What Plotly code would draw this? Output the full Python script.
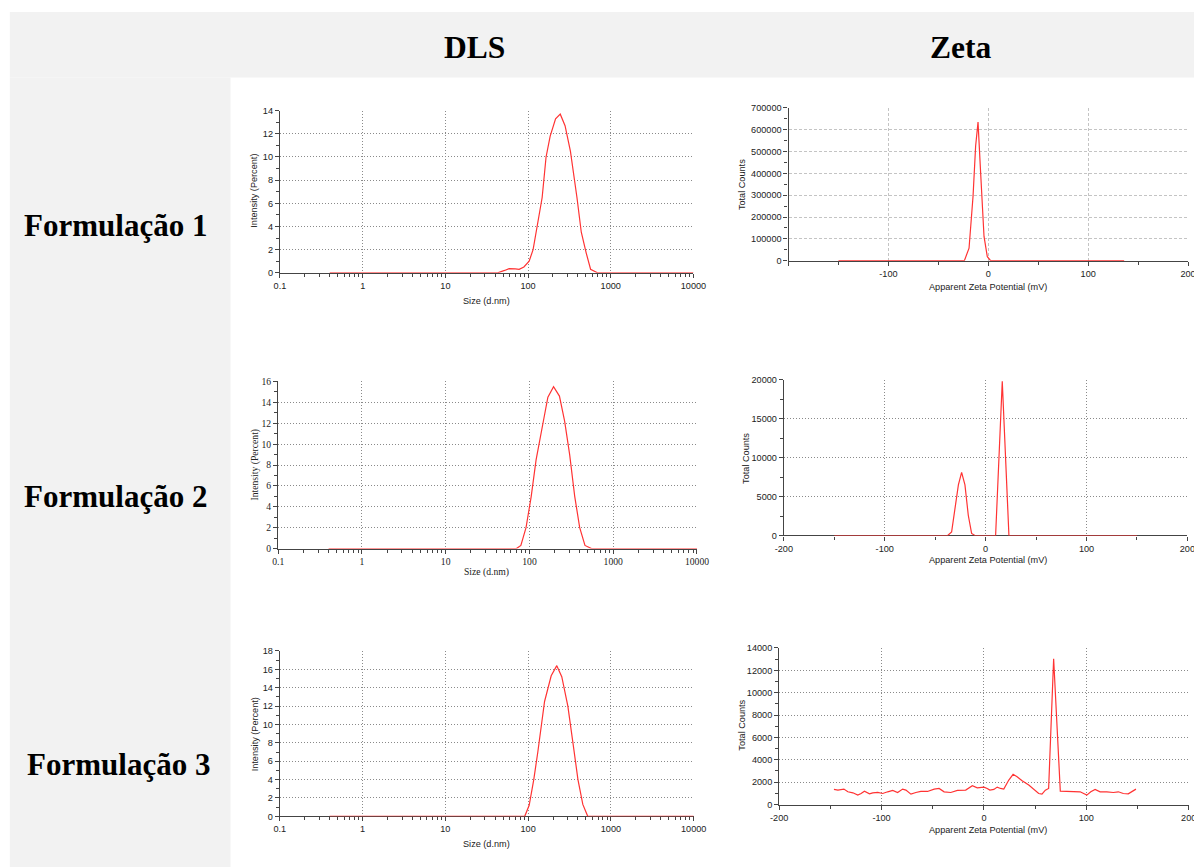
import plotly.graph_objects as go

W, H = 1210, 880

# ---------------- data ----------------
dls1_size = [0.4, 43, 52, 59, 70, 78, 89, 103, 115, 128, 148, 165, 185, 215, 245, 280, 325, 390, 440, 505, 570, 690, 10000]
dls1_int = [0, 0, 0.2, 0.35, 0.33, 0.3, 0.5, 1.0, 2.0, 3.8, 6.5, 10.0, 11.8, 13.3, 13.7, 12.7, 10.5, 6.5, 3.5, 1.7, 0.3, 0, 0]

dls2_size = [0.4, 70, 79, 91, 105, 120, 145, 166, 194, 228, 263, 302, 347, 398, 460, 550, 10000]
dls2_int = [0, 0, 0.3, 2.0, 5.0, 8.5, 12.0, 14.5, 15.5, 14.6, 12.2, 9.0, 5.0, 2.0, 0.3, 0, 0]

dls3_size = [0.4, 91, 103, 117, 131, 158, 190, 222, 255, 302, 348, 400, 458, 525, 10000]
dls3_int = [0, 0, 1.2, 4.0, 7.0, 12.5, 15.3, 16.4, 15.2, 12.0, 8.0, 4.0, 1.3, 0, 0]

zeta1_mv = [-150, -24, -19.3, -15.3, -12.7, -10.3, -7.7, -4.3, -1, 2.3, 136]
zeta1_counts = [0, 0, 57000, 295000, 526000, 635000, 403000, 111000, 18000, 0, 0]

zeta2_mv = [-150, -37.6, -33.7, -30.4, -27, -23.8, -20.5, -17.2, -13.9, -10.6, 9.9, 16.5, 23.1, 150]
zeta2_counts = [0, 0, 470, 3500, 6500, 8100, 6500, 2600, 260, 0, 0, 19800, 0, 0]

zeta3_mv = [-146.5, -142.6, -136.8, -132.9, -128, -123.2, -120, -116.7, -111.8, -108.6, -103.7, -98.9,
            -94, -89.1, -84.3, -79.4, -76.2, -71.3, -66.5, -61.6, -55.1, -48.6, -43.8, -38.9, -32.4,
            -25.9, -17.8, -11.3, -6.5, 0, 3.2, 5.8, 9.7, 13, 16.2, 19.4, 24.3, 28.5, 32.4, 37.3, 43.8,
            48.6, 53.5, 56.7, 60, 63.2, 68.1, 74.6, 81, 87.5, 94, 100.5, 104.4, 108.6, 113.5, 120,
            126.4, 131.3, 136.1, 141, 144.2, 148.5]
zeta3_counts = [1350, 1290, 1380, 1140, 1050, 840, 990, 1200, 960, 1050, 1080, 990,
                1140, 1260, 1080, 1380, 1290, 930, 1080, 1170, 1170, 1380, 1440, 1140, 1080,
                1260, 1290, 1680, 1500, 1560, 1440, 1290, 1350, 1560, 1440, 1380, 2190, 2700, 2490, 2130, 1740,
                1380, 990, 930, 1290, 1440, 13040, 1200, 1170, 1140, 1140, 840, 1140, 1350, 1140, 1140,
                1080, 1140, 990, 960, 1140, 1380]

col_titles = ["DLS", "Zeta"]
row_titles = ["Formulação 1", "Formulação 2", "Formulação 3"]
dls_xlabel = "Size (d.nm)"
dls_ylabel = "Intensity (Percent)"
zeta_xlabel = "Apparent Zeta Potential (mV)"
zeta_ylabel = "Total Counts"
dls_ticks = [0.1, 1, 10, 100, 1000, 10000]
dls_ticktext = ["0.1", "1", "10", "100", "1000", "10000"]
zeta_ticks = [-200, -100, 0, 100, 200]
zeta_ticktext = ["-200", "-100", "0", "100", "200"]

# ---------------- helpers ----------------
# captured picture ~= 7.2 + 0.983*page_x, 6 + 0.981*page_y  -> place items on page so that picture matches
SX, OX, SY, OY = 0.983, 7.2, 0.981, 6.0

def px(t):
    return (t - OX) / SX

def py(t):
    return (t - OY) / SY

def fx(t):
    return px(t) / W

def fy(t):
    return 1 - py(t) / H

def clip01(v):
    return max(0.0, min(1.0, v))

FS = 1 / SX
RED = "#ff3333"
SANS = "Liberation Sans, Arial, sans-serif"
SERIF = "Liberation Serif, Times New Roman, serif"

fig = go.Figure()
layout = dict(
    width=W, height=H, margin=dict(l=0, r=0, t=0, b=0),
    paper_bgcolor="white", plot_bgcolor="white", showlegend=False,
    shapes=[], annotations=[],
)

# backgrounds
layout["shapes"].append(dict(type="rect", xref="paper", yref="paper", x0=fx(8), x1=1, y0=fy(77), y1=fy(12),
                             fillcolor="#f2f2f2", line=dict(width=0), layer="below"))
layout["shapes"].append(dict(type="rect", xref="paper", yref="paper", x0=fx(8), x1=fx(229), y0=0, y1=fy(77),
                             fillcolor="#f2f2f2", line=dict(width=0), layer="below"))

panels = [
    dict(kind="dls", x=dls1_size, y=dls1_int, box=(278.5, 692.5, 110, 271), yr=[0, 14], dt=2, mn=1,
         font=SANS, gd="dot", ylab=(253, 190), xlab=(485, 299)),
    dict(kind="zeta", x=zeta1_mv, y=zeta1_counts, box=(787.7, 1187.7, 107.3, 259), yr=[0, 700000], dt=100000, mn=50000,
         font=SANS, gd="dash", ylab=(741, 183), xlab=(987, 285), hide_first=True),
    dict(kind="dls", x=dls2_size, y=dls2_int, box=(276.7, 696, 379, 545), yr=[0, 16], dt=2, mn=1,
         font=SERIF, gd="dot", ylab=(254, 462), xlab=(485, 568)),
    dict(kind="zeta", x=zeta2_mv, y=zeta2_counts, box=(783, 1187, 377.3, 532), yr=[0, 20000], dt=5000, mn=2500,
         font=SANS, gd="dot", ylab=(745, 455), xlab=(987, 556)),
    dict(kind="dls", x=dls3_size, y=dls3_int, box=(278.3, 692.7, 646.7, 811), yr=[0, 18], dt=2, mn=1,
         font=SANS, gd="dot", ylab=(253, 730), xlab=(485, 838)),
    dict(kind="zeta", x=zeta3_mv, y=zeta3_counts, box=(778.3, 1188.3, 643.7, 799.3), yr=[0, 14000], dt=2000, mn=1000,
         font=SANS, gd="dot", ylab=(741, 720), xlab=(987, 825)),
]

for i, p in enumerate(panels, start=1):
    xa = "xaxis" if i == 1 else f"xaxis{i}"
    ya = "yaxis" if i == 1 else f"yaxis{i}"
    xr = "x" if i == 1 else f"x{i}"
    yr_ = "y" if i == 1 else f"y{i}"
    x0, x1, yt, yb = p["box"]
    fsize = (9.5 if p["font"] == SERIF else 9) * FS
    tickfont = dict(family=p["font"], size=fsize, color="#222")
    if p["gd"] == "dot":
        gridcolor, griddash = "#8a8a8a", "1px,2px"
    else:
        gridcolor, griddash = "#c4c4c4", "3px,2px"

    fig.add_trace(go.Scatter(x=p["x"], y=p["y"], mode="lines", xaxis=xr, yaxis=yr_,
                             line=dict(color=RED, width=1.2), hoverinfo="skip"))

    yaxis = dict(domain=[clip01(fy(yb)), clip01(fy(yt))], anchor=xr, range=p["yr"], dtick=p["dt"], tick0=0,
                 tickformat="d",
                 showgrid=True, gridcolor=gridcolor, griddash=griddash, gridwidth=1,
                 showline=True, linecolor="#444", linewidth=1.2, zeroline=False,
                 ticks="outside", ticklen=4, tickcolor="#444", tickfont=tickfont,
                 minor=dict(dtick=p["mn"], ticks="outside", ticklen=3, tickcolor="#444", showgrid=False),
                 layer="below traces", fixedrange=True)
    left, right = fx(x0), fx(x1)
    if p["kind"] == "dls":
        xaxis = dict(domain=[left, clip01(right)], anchor=yr_, type="log", range=[-1, 4],
                     tickvals=dls_ticks, ticktext=dls_ticktext,
                     minor=dict(ticks="outside", ticklen=3, tickcolor="#444", showgrid=False, dtick="D1"))
    else:
        tt = list(zeta_ticktext)
        if p.get("hide_first"):
            tt[0] = ""
        r = clip01(right)
        xmax = -200 + 400 * (r - left) / (right - left)
        xaxis = dict(domain=[left, r], anchor=yr_, range=[-200, xmax],
                     tickvals=zeta_ticks, ticktext=tt,
                     minor=dict(dtick=50, tick0=0, ticks="outside", ticklen=3, tickcolor="#444", showgrid=False))
    xaxis.update(showgrid=True, gridcolor=gridcolor, griddash=griddash, gridwidth=1,
                 showline=True, linecolor="#444", linewidth=1.2, zeroline=False,
                 ticks="outside", ticklen=4, tickcolor="#444", tickfont=tickfont,
                 layer="below traces", fixedrange=True)
    layout[xa] = xaxis
    layout[ya] = yaxis

    xl = dls_xlabel if p["kind"] == "dls" else zeta_xlabel
    yl = dls_ylabel if p["kind"] == "dls" else zeta_ylabel
    tfont = dict(family=p["font"], size=fsize, color="#222")
    layout["annotations"].append(dict(text=xl, x=fx(p["xlab"][0]), y=fy(p["xlab"][1]), xref="paper", yref="paper",
                                      showarrow=False, font=tfont, xanchor="center", yanchor="middle"))
    layout["annotations"].append(dict(text=yl, x=fx(p["ylab"][0]), y=fy(p["ylab"][1]), xref="paper", yref="paper",
                                      showarrow=False, font=tfont, textangle=-90, xanchor="center", yanchor="middle"))

# header and row labels
hfont = dict(family=SERIF, size=31 * FS, color="black")
for txt, cx in zip(col_titles, [473, 960]):
    layout["annotations"].append(dict(text=f"<b>{txt}</b>", x=fx(cx), y=fy(47), xref="paper", yref="paper",
                                      showarrow=False, font=hfont, xanchor="center", yanchor="middle"))
rfont = dict(family=SERIF, size=30.5 * FS, color="black")
for txt, cy, cx in zip(row_titles, [224, 493, 760], [114, 114, 117]):
    layout["annotations"].append(dict(text=f"<b>{txt}</b>", x=fx(cx), y=fy(cy), xref="paper", yref="paper",
                                      showarrow=False, font=rfont, xanchor="center", yanchor="middle"))

fig.update_layout(**layout)
fig.write_html("out.html", config={"displayModeBar": False},
               post_script="document.body.style.margin='0';document.body.style.overflow='hidden';")
